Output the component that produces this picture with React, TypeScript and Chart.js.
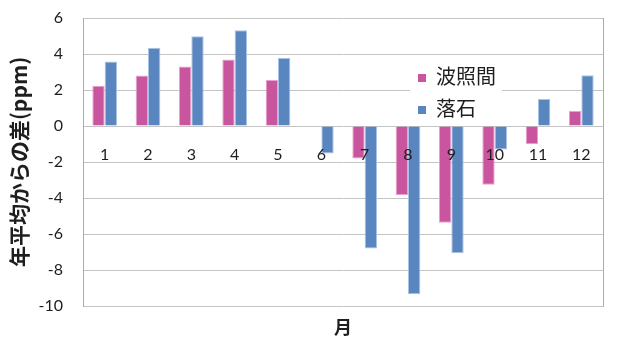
import React, { useEffect, useRef } from "react";
import { Chart, registerables } from "chart.js";

Chart.register(...registerables);

const months = ["1", "2", "3", "4", "5", "6", "7", "8", "9", "10", "11", "12"];
const seriesNames = ["波照間", "落石"];
const hateruma = [2.24, 2.8, 3.3, 3.69, 2.56, 0, -1.81, -3.83, -5.37, -3.26, -1.02, 0.83];
const ochiishi = [3.59, 4.35, 4.98, 5.32, 3.78, -1.53, -6.81, -9.35, -7.07, -1.3, 1.5, 2.82];
const yMin = -10;
const yMax = 6;
const yStep = 2;
const yTitle = "年平均からの差(ppm)";
const xTitle = "月";

const PINK = "#C8559E";
const PINK_EDGE = "#E7A3CC";
const BLUE = "#5A86C0";
const BLUE_EDGE = "#A9C3E6";
const GRID = "#C4C4C4";
const BORDER = "#ABABAB";
const TEXT = "#1E1E1E";
const CLEAR = "rgba(0,0,0,0)";
const NUM_FONT = "Lato, 'Noto Sans CJK JP', sans-serif";
const CJK_FONT = "'Noto Sans CJK JP', sans-serif";

const legendPlugin = {
  id: "insideLegend",
  afterDraw(chart: any) {
    const { ctx, chartArea } = chart;
    const ds = chart.data.datasets;
    const boxLeft = chartArea.left + 327;
    const boxTop = chartArea.top + 44;
    const boxW = 92;
    const boxH = 58;
    ctx.save();
    ctx.fillStyle = "#FFFFFF";
    ctx.fillRect(boxLeft, boxTop, boxW, boxH);
    ctx.font = `20px ${CJK_FONT}`;
    ctx.textBaseline = "middle";
    ctx.textAlign = "left";
    ds.forEach((d: any, i: number) => {
      const cy = boxTop + 14 + i * 32;
      ctx.fillStyle = d.backgroundColor;
      ctx.fillRect(boxLeft + 8, cy - 2, 8, 8);
      ctx.fillStyle = TEXT;
      ctx.fillText(d.label, boxLeft + 26, cy);
    });
    ctx.restore();
  },
};

export default function App() {
  const ref = useRef<HTMLCanvasElement | null>(null);
  useEffect(() => {
    document.body.style.margin = "0";
    if (!ref.current) return;
    const chart = new Chart(ref.current, {
      type: "bar",
      data: {
        labels: months,
        datasets: [
          {
            label: seriesNames[0],
            data: hateruma,
            backgroundColor: PINK,
            borderColor: PINK_EDGE,
            borderWidth: 1,
            xAxisID: "x",
            yAxisID: "y",
            categoryPercentage: 0.57,
            barPercentage: 1.0,
          },
          {
            label: seriesNames[1],
            data: ochiishi,
            backgroundColor: BLUE,
            borderColor: BLUE_EDGE,
            borderWidth: 1,
            xAxisID: "x",
            yAxisID: "y",
            categoryPercentage: 0.57,
            barPercentage: 1.0,
          },
        ],
      },
      options: {
        responsive: false,
        animation: false,
        layout: { padding: { left: 0, right: 17, top: 18, bottom: 0 } },
        plugins: {
          legend: { display: false },
          tooltip: { enabled: false },
        },
        scales: {
          x: {
            type: "category",
            position: { y: 0 } as any,
            grid: { display: false },
            border: { display: false },
            ticks: {
              z: 1,
              color: TEXT,
              font: { family: NUM_FONT, size: 16 },
              padding: 11,
              maxRotation: 0,
              autoSkip: false,
            },
          },
          x2: {
            type: "category",
            position: "bottom",
            grid: { display: false },
            border: { display: false },
            ticks: { display: false },
            title: {
              display: true,
              text: xTitle,
              color: TEXT,
              font: { family: CJK_FONT, size: 18, weight: "bold" },
              padding: { top: 0, bottom: 8 },
            },
            afterFit(scale: any) {
              scale.height = 40;
            },
          },
          y: {
            position: "left",
            min: yMin,
            max: yMax,
            grid: {
              color: GRID,
              lineWidth: 1,
              drawTicks: true,
              tickLength: 17,
              tickColor: CLEAR,
            },
            border: { display: true, color: BORDER },
            ticks: {
              stepSize: yStep,
              color: TEXT,
              font: { family: NUM_FONT, size: 16 },
              padding: 3,
            },
            title: {
              display: true,
              text: yTitle,
              color: TEXT,
              font: { family: CJK_FONT, size: 21, weight: "bold" },
              padding: { top: 6, bottom: 0 },
            },
            afterFit(scale: any) {
              scale.width = 83;
            },
          },
          y2: {
            position: "right",
            min: yMin,
            max: yMax,
            grid: { display: false },
            border: { display: true, color: BORDER },
            ticks: { display: false },
            afterFit(scale: any) {
              scale.width = 0;
            },
          },
        },
      } as any,
      plugins: [legendPlugin],
    });
    return () => chart.destroy();
  }, []);
  return (
    <canvas
      ref={ref}
      width={620}
      height={346}
      style={{ display: "block", width: 620, height: 346 }}
    />
  );
}
